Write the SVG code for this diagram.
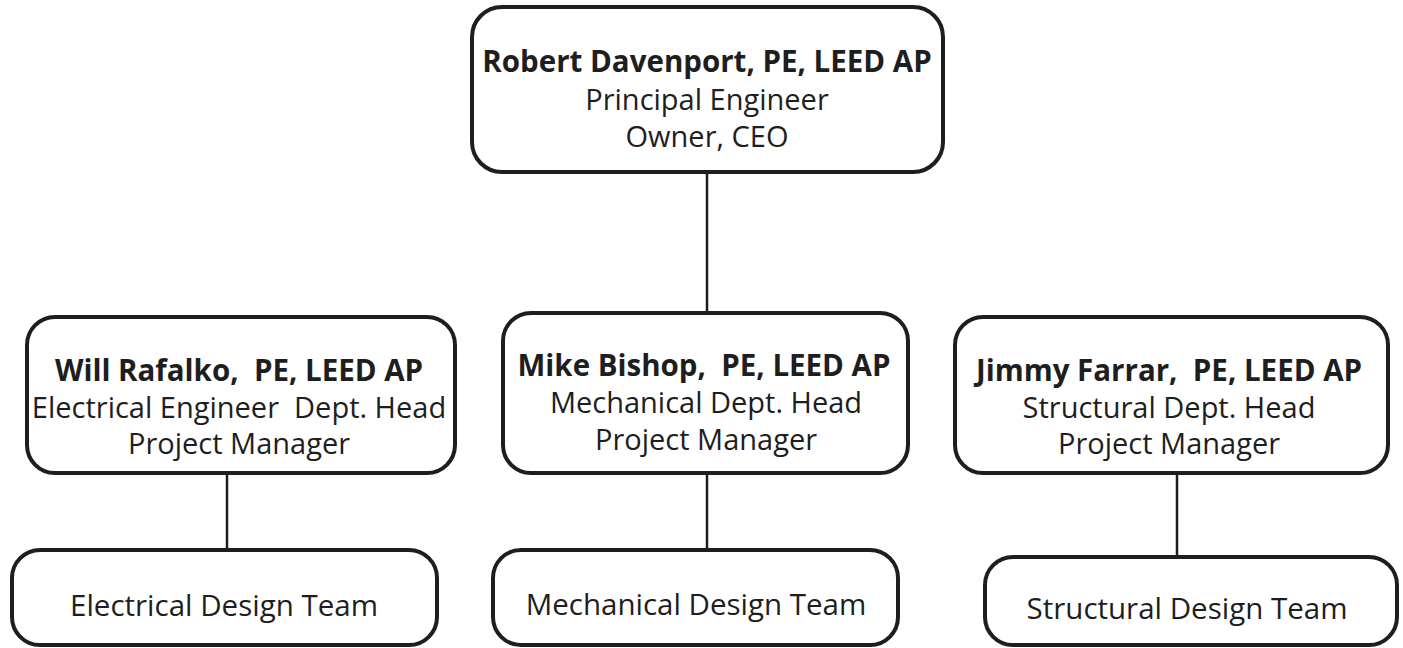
<svg xmlns="http://www.w3.org/2000/svg" width="1403" height="648" viewBox="0 0 1403 648">
<style>
.box{fill:#fff;stroke:#1e1e1e;stroke-width:4}
.con line{stroke:#1e1e1e;stroke-width:2.5}
text{font-family:"Open Sans","Noto Sans","DejaVu Sans",sans-serif;fill:#1e1e1e;text-anchor:middle;font-size:29px}
.b{font-weight:bold;font-size:29.5px}
.t{font-size:29.5px}
</style>
<rect width="1403" height="648" fill="#fff"/>
<g class="con">
<line x1="707" y1="172" x2="707" y2="315"/>
<line x1="227" y1="473" x2="227" y2="550"/>
<line x1="707" y1="473" x2="707" y2="550"/>
<line x1="1177" y1="473" x2="1177" y2="557"/>
</g>
<g id="n-robert">
<rect class="box" x="472" y="7" width="471" height="165" rx="30"/>
<text class="b" x="707" y="72">Robert Davenport, PE, LEED AP</text>
<text x="707" y="110">Principal Engineer</text>
<text x="707" y="147">Owner, CEO</text>
</g>
<g id="n-will">
<rect class="box" x="27" y="317" width="428" height="156" rx="28"/>
<text class="b" x="239" y="381" xml:space="preserve">Will Rafalko,  PE, LEED AP</text>
<text x="239" y="418" xml:space="preserve">Electrical Engineer  Dept. Head</text>
<text x="239" y="454">Project Manager</text>
</g>
<g id="n-mike">
<rect class="box" x="503" y="313" width="405" height="160" rx="28"/>
<text class="b" x="704" y="376" xml:space="preserve">Mike Bishop,  PE, LEED AP</text>
<text x="706" y="413">Mechanical Dept. Head</text>
<text x="706" y="450">Project Manager</text>
</g>
<g id="n-jimmy">
<rect class="box" x="955" y="317" width="433" height="156" rx="28"/>
<text class="b" x="1169" y="381" xml:space="preserve">Jimmy Farrar,  PE, LEED AP</text>
<text x="1169" y="418">Structural Dept. Head</text>
<text x="1169" y="454">Project Manager</text>
</g>
<g id="n-elec">
<rect class="box" x="12" y="550" width="425" height="95" rx="28"/>
<text class="t" x="224" y="616">Electrical Design Team</text>
</g>
<g id="n-mech">
<rect class="box" x="493" y="550" width="405" height="95" rx="28"/>
<text class="t" x="696" y="615">Mechanical Design Team</text>
</g>
<g id="n-struct">
<rect class="box" x="985" y="557" width="412" height="88" rx="28"/>
<text class="t" x="1187" y="619">Structural Design Team</text>
</g>
</svg>
